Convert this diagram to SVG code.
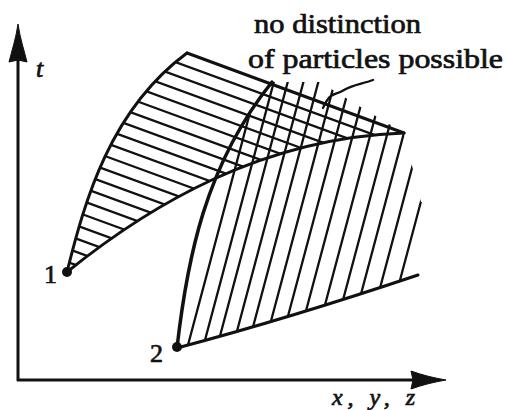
<svg xmlns="http://www.w3.org/2000/svg" width="506" height="410" viewBox="0 0 506 410">
  <style>
    .edge { fill: none; stroke: #111; stroke-width: 3; stroke-linecap: round; stroke-linejoin: round; }
    .hatch { fill: none; stroke: #111; stroke-width: 2.3; stroke-linecap: round; }
    .axis { fill: none; stroke: #111; stroke-width: 3; }
    .head { fill: #111; stroke: #111; stroke-width: 1; stroke-linejoin: round; }
    .lbl { font-family: "Liberation Serif", "DejaVu Serif", serif; fill: #111; stroke: #111; stroke-width: 0.7; }
    .it { font-style: italic; }
  </style>
  <defs>
    <clipPath id="clip1">
      <path d="M67,272 C85,200 110,110 187,53 L404,133 C262,138 150,205 67,272 Z"/>
    </clipPath>
    <clipPath id="clip2">
      <path d="M177,348 C187,260 205,165 272,82 L320,82 Q352,102 404,133 L421,202 L440,202 L440,280 L418,275 Q290,318 177,348 Z"/>
    </clipPath>
  </defs>
  <rect width="506" height="410" fill="#fff"/>

  <g id="axes">
    <line class="axis" x1="18" y1="55" x2="18" y2="381"/>
    <line class="axis" x1="17" y1="380" x2="420" y2="380"/>
    <path class="head" d="M18,24 C20,38 24,50 27,62 L18,60 L9,62 C12,50 16,38 18,24 Z"/>
    <path class="head" d="M446,380 C434,382 422,385 411,389 L413,380 L411,371 C422,375 434,378 446,380 Z"/>
  </g>

  <g id="region1">
    <g clip-path="url(#clip1)">
      <line class="hatch" x1="50" y1="16.2" x2="420" y2="151.6"/>
      <line class="hatch" x1="50" y1="29.5" x2="420" y2="164.9"/>
      <line class="hatch" x1="50" y1="42.8" x2="420" y2="178.2"/>
      <line class="hatch" x1="50" y1="56.1" x2="420" y2="191.5"/>
      <line class="hatch" x1="50" y1="69.4" x2="420" y2="204.8"/>
      <line class="hatch" x1="50" y1="82.7" x2="420" y2="218.1"/>
      <line class="hatch" x1="50" y1="96.0" x2="420" y2="231.4"/>
      <line class="hatch" x1="50" y1="109.3" x2="420" y2="244.7"/>
      <line class="hatch" x1="50" y1="122.6" x2="420" y2="258.0"/>
      <line class="hatch" x1="50" y1="135.9" x2="420" y2="271.3"/>
      <line class="hatch" x1="50" y1="149.2" x2="420" y2="284.6"/>
      <line class="hatch" x1="50" y1="162.5" x2="420" y2="297.9"/>
      <line class="hatch" x1="50" y1="175.8" x2="420" y2="311.2"/>
      <line class="hatch" x1="50" y1="189.1" x2="420" y2="324.5"/>
      <line class="hatch" x1="50" y1="202.4" x2="420" y2="337.8"/>
      <line class="hatch" x1="50" y1="215.7" x2="420" y2="351.1"/>
      <line class="hatch" x1="50" y1="229.0" x2="420" y2="364.4"/>
      <line class="hatch" x1="50" y1="242.3" x2="420" y2="377.7"/>
      <line class="hatch" x1="50" y1="255.6" x2="420" y2="391.0"/>
    </g>
    <path class="edge" d="M67,272 C85,200 110,110 187,53"/>
    <line class="edge" x1="187" y1="53" x2="404" y2="133"/>
    <path class="edge" d="M67,272 C150,205 262,138 404,133"/>
    <circle cx="67" cy="272" r="5" fill="#111"/>
  </g>

  <g id="region2">
    <g clip-path="url(#clip2)">
      <line class="hatch" x1="184" y1="360" x2="264" y2="60"/>
      <line class="hatch" x1="199.7" y1="360" x2="279.7" y2="60"/>
      <line class="hatch" x1="213.6" y1="360" x2="293.6" y2="60"/>
      <line class="hatch" x1="229.3" y1="360" x2="309.3" y2="60"/>
      <line class="hatch" x1="244.2" y1="360" x2="324.2" y2="60"/>
      <line class="hatch" x1="260.6" y1="360" x2="340.6" y2="60"/>
      <line class="hatch" x1="276.3" y1="360" x2="356.3" y2="60"/>
      <line class="hatch" x1="292.9" y1="360" x2="372.9" y2="60"/>
      <line class="hatch" x1="310.3" y1="360" x2="390.3" y2="60"/>
      <line class="hatch" x1="327" y1="360" x2="407" y2="60"/>
      <line class="hatch" x1="343.4" y1="360" x2="423.4" y2="60"/>
      <line class="hatch" x1="360.8" y1="360" x2="440.8" y2="60"/>
      <line class="hatch" x1="378.7" y1="360" x2="458.7" y2="60"/>
    </g>
    <path class="edge" style="stroke-width:3.5" d="M177,348 C187,260 205,165 272,82"/>
    <path class="edge" d="M177,348 Q290,318 418,275"/>
    <circle cx="177" cy="347" r="5" fill="#111"/>
  </g>

  <g id="connectors">
    <path class="hatch" d="M373,80 C362,84 352,85 344,90 C336,95 332,93 328,99 C325,103 324,105 323,108"/>
  </g>

  <g id="labels">
    <text class="lbl it" x="36" y="77" font-size="26">t</text>
    <text class="lbl" x="44" y="283" font-size="26">1</text>
    <text class="lbl" x="150" y="362" font-size="26">2</text>
    <text class="lbl it" x="332" y="405" font-size="24" textLength="83" lengthAdjust="spacing">x, y, z</text>
    <text class="lbl" x="254" y="33" font-size="28" textLength="167" lengthAdjust="spacingAndGlyphs">no distinction</text>
    <text class="lbl" x="248" y="68" font-size="28" textLength="255" lengthAdjust="spacingAndGlyphs">of particles possible</text>
  </g>
</svg>
